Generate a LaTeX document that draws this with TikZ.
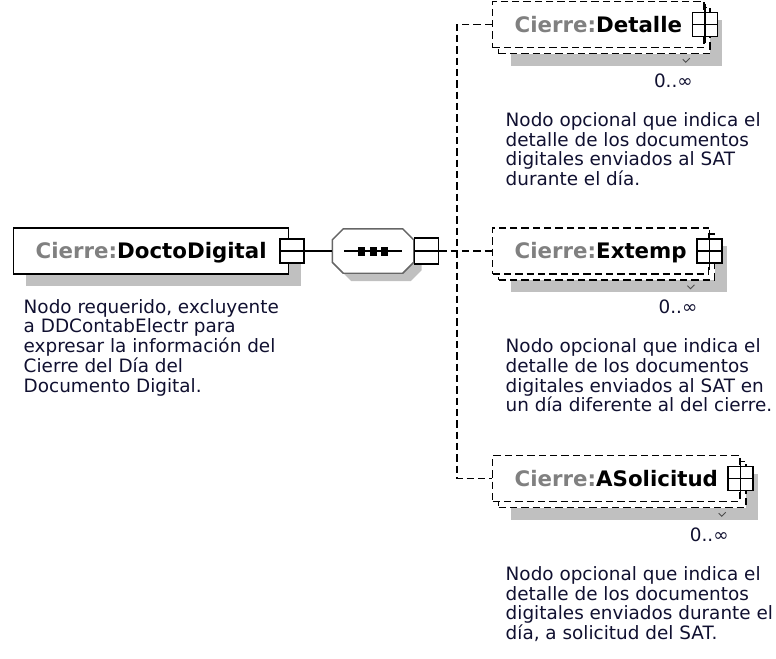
\documentclass[tikz,border=0pt]{standalone}
\usepackage{fontspec}
\setmainfont{DejaVu Sans}
\usepackage{tikz}
\usetikzlibrary{positioning,shadows}

\definecolor{prefixgray}{RGB}{128,128,128}
\definecolor{shadegray}{RGB}{192,192,192}
\definecolor{textnavy}{RGB}{16,16,48}

\newcommand{\cierre}[1]{{\color{prefixgray}Cierre:}#1\hspace{3pt}}

\begin{document}
\begin{tikzpicture}[x=0.75pt,y=-0.75pt,line width=1.1pt]
  \tikzstyle{element} = [draw,fill=white,inner xsep=16.5pt,minimum height=34.5pt,text height=11.6pt,text depth=0pt,font=\fontsize{16}{19}\selectfont\bfseries]
  \tikzstyle{required} = [element,drop shadow={shadow xshift=9pt,shadow yshift=-9pt,fill=shadegray,opacity=1}]
  \tikzstyle{optional} = [element,dash pattern=on 5.5pt off 3pt,
    preaction={fill=shadegray,transform canvas={xshift=13.5pt,yshift=-13.5pt}},
    preaction={draw,fill=white,dash pattern=on 5.5pt off 3pt,transform canvas={xshift=4.5pt,yshift=-4.5pt}}]
  \tikzstyle{collapse} = [draw,fill=white,minimum width=18pt,minimum height=18pt,inner sep=0pt,
    path picture={\draw (path picture bounding box.west) -- (path picture bounding box.east);}]
  \tikzstyle{expand} = [collapse,minimum width=18.75pt]
  \tikzstyle{desc} = [align=left,inner sep=0pt,text=textnavy,font=\fontsize{13.8}{14.8}\selectfont]
  \tikzstyle{card} = [inner sep=0pt,text=textnavy,font=\fontsize{13.8}{14.8}\selectfont]
  \tikzstyle{link} = [dash pattern=on 5.5pt off 3pt]
  \tikzstyle{tick} = [line width=0.7pt,draw=black!70]
  \useasboundingbox (0,0) rectangle (776,658);
  %
  % Root element.
  \node[required,anchor=west] (doc) at (13,251) {\cierre{DoctoDigital}};
  \node[collapse] (docm) at ([xshift=2pt]doc.east) {};
  \node[desc,below right=17.85pt and 7.5pt of doc.south west] (docdesc)
    {Nodo requerido, excluyente\\a DDContabElectr para\\expresar la información del\\Cierre del Día del\\Documento Digital.};

  % Sequence compositor.
  \node[minimum width=60pt,minimum height=32.25pt,inner sep=0pt] (seq) at (373,251) {};
  \draw[draw=black!60,fill=white,drop shadow={shadow xshift=6pt,shadow yshift=-6pt,fill=shadegray,opacity=1}]
    ([xshift=8.25pt]seq.north west) -- ([xshift=-8.25pt]seq.north east) --
    ([yshift=-8.25pt]seq.north east) -- ([yshift=8.25pt]seq.south east) --
    ([xshift=-8.25pt]seq.south east) -- ([xshift=8.25pt]seq.south west) --
    ([yshift=8.25pt]seq.south west) -- ([yshift=-8.25pt]seq.north west) -- cycle;
  \draw ([xshift=-21.75pt]seq.center) -- ([xshift=21.75pt]seq.center);
  \foreach \dx in {-8.6,0,8.6}
    \fill ([xshift=\dx pt]seq.center) +(-3.5,-4.5) rectangle +(3.5,4.5);
  \node[collapse,minimum height=19.5pt,anchor=west] (seqm) at (seq.east) {};
  \draw (docm.east) -- (seq.west);

  % Child elements.
  \node[optional,anchor=west] (det) at (492,24.5) {\cierre{Detalle}};
  \node[optional,anchor=west] (ext) at (492,251) {\cierre{Extemp}};
  \node[optional,anchor=west] (aso) at (492,478.5) {\cierre{ASolicitud}};
  \node[expand] (detp) at (det.east) {};
  \node[expand] (extp) at (ext.east) {};
  \node[expand] (asop) at (aso.east) {};
  \foreach \n in {detp,extp,asop}
    \draw ([yshift=6pt]\n.north) -- ([yshift=-4.5pt]\n.south);
  \foreach \n in {det,ext,aso} {
    \node[card,below left=18.5pt and 8.5pt of \n.south east] (\n card) {0..∞};
    \draw[tick] ([shift={(-22,11)}]\n.south east) -- ++(3,3) -- ++(4,-4);
  }

  % Descriptions.
  \node[desc,below right=47.5pt and 9.75pt of det.south west] (detdesc)
    {Nodo opcional que indica el\\detalle de los documentos\\digitales enviados al SAT\\durante el día.};
  \node[desc,below right=47.5pt and 9.75pt of ext.south west] (extdesc)
    {Nodo opcional que indica el\\detalle de los documentos\\digitales enviados al SAT en\\un día diferente al del cierre.};
  \node[desc,below right=47.5pt and 9.75pt of aso.south west] (asodesc)
    {Nodo opcional que indica el\\detalle de los documentos\\digitales enviados durante el\\día, a solicitud del SAT.};

  % Choice lines.
  \coordinate (bus) at (457,251);
  \draw[link] (seqm.east) -- (bus) -- (ext.west);
  \draw[link] (det.west) -| (bus) |- (aso.west);
\end{tikzpicture}
\end{document}
